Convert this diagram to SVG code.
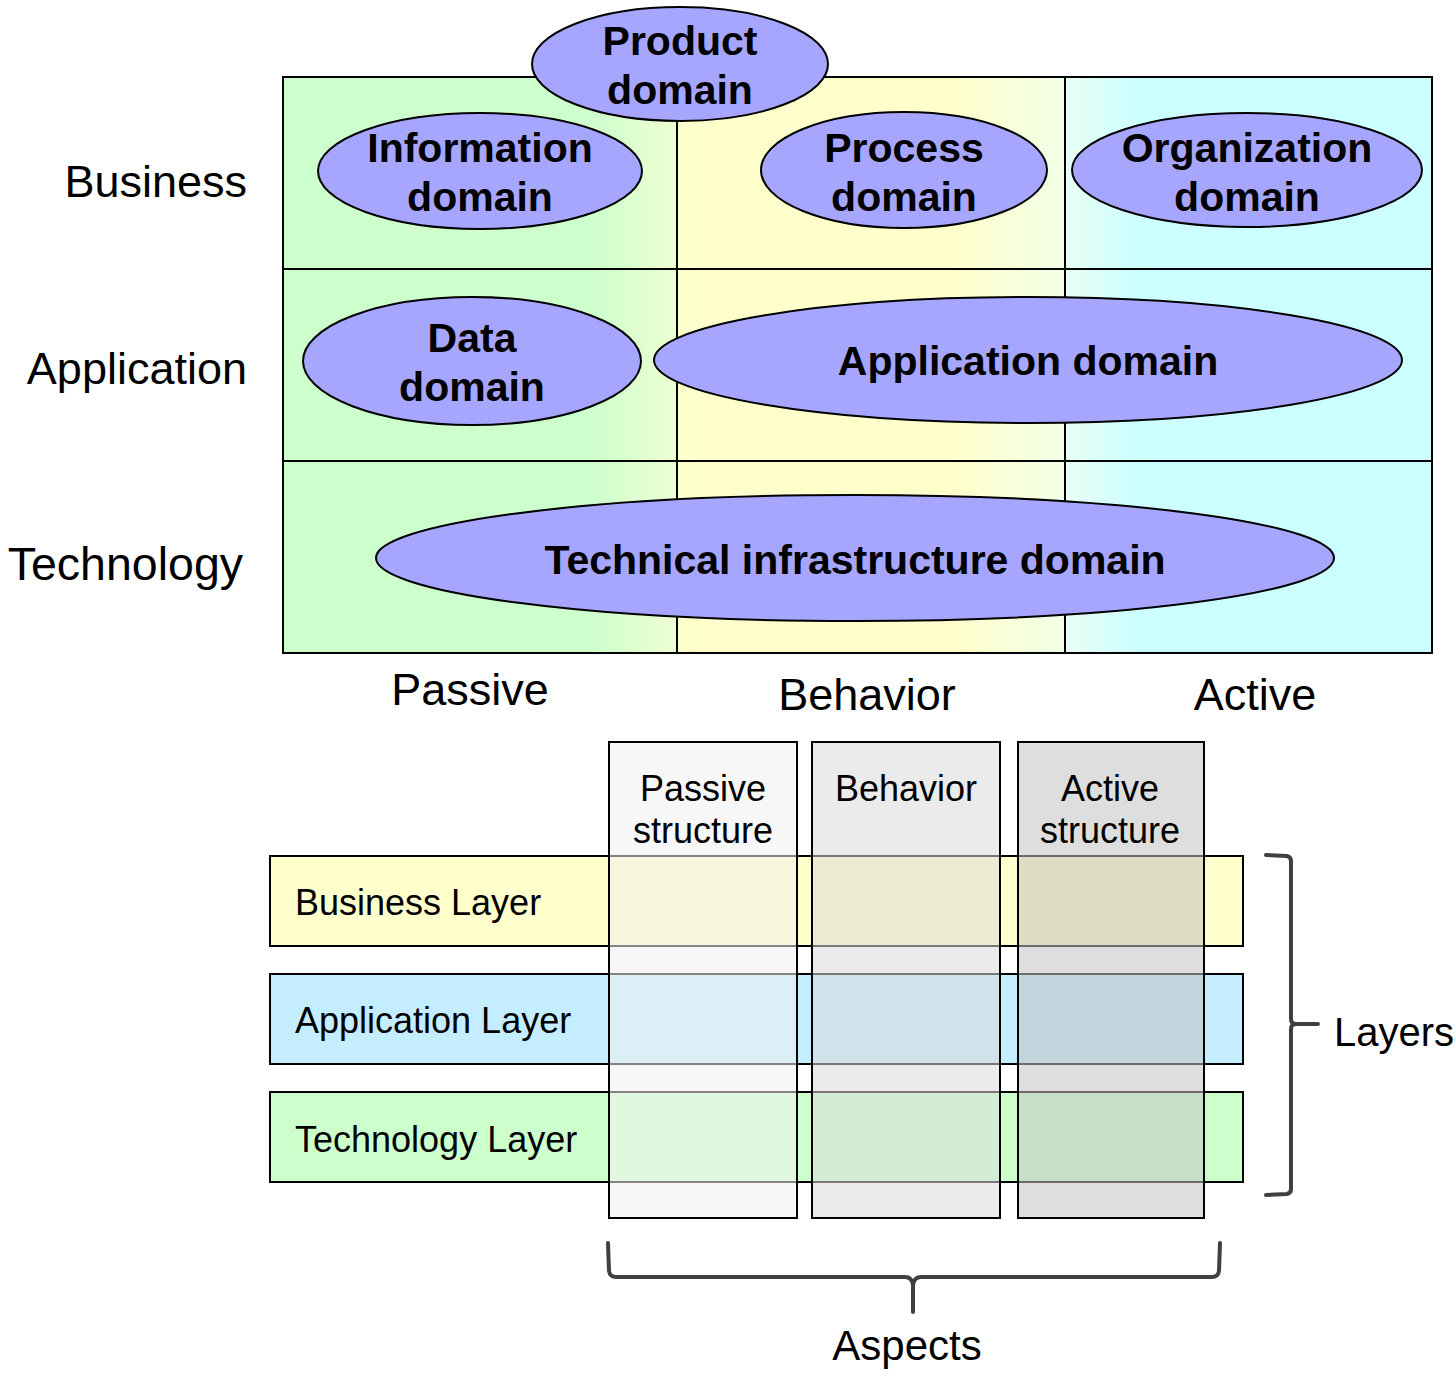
<svg xmlns="http://www.w3.org/2000/svg" width="1456" height="1376" viewBox="0 0 1456 1376">
<style>
.dom{fill:#A6A6FF;stroke:#000;stroke-width:2}
.dt{font-family:"Liberation Sans",Arial,sans-serif;font-weight:bold;font-size:41px;text-anchor:middle;fill:#000}
.lbl{font-family:"Liberation Sans",Arial,sans-serif;font-size:45px;fill:#000}
.grid{fill:none;stroke:#000;stroke-width:2}
.col{stroke:#000;stroke-width:2;fill-opacity:0.55}
.lay{stroke:#000;stroke-width:2}
.t36{font-family:"Liberation Sans",Arial,sans-serif;font-size:36px;fill:#000}
.t42{font-family:"Liberation Sans",Arial,sans-serif;font-size:42px;fill:#000}
.br{fill:none;stroke:#404040;stroke-width:4;stroke-linejoin:round;stroke-linecap:round}
</style>
<defs>
<linearGradient id="g1" gradientUnits="userSpaceOnUse" x1="283" y1="0" x2="677" y2="0">
<stop offset="0" stop-color="#CCFFCC"/><stop offset="0.78" stop-color="#CCFFCC"/><stop offset="1" stop-color="#EEFFD2"/>
</linearGradient>
<linearGradient id="g2" gradientUnits="userSpaceOnUse" x1="677" y1="0" x2="1065" y2="0">
<stop offset="0" stop-color="#FCFFCC"/><stop offset="0.1" stop-color="#FFFFCC"/><stop offset="0.72" stop-color="#FFFFCC"/><stop offset="1" stop-color="#F0FFE6"/>
</linearGradient>
<linearGradient id="g3" gradientUnits="userSpaceOnUse" x1="1065" y1="0" x2="1432" y2="0">
<stop offset="0" stop-color="#E8FFF4"/><stop offset="0.2" stop-color="#CCFFFF"/><stop offset="1" stop-color="#CCFFFF"/>
</linearGradient>
</defs>

<g id="top-grid">
<rect x="283" y="77" width="394" height="576" fill="url(#g1)"/>
<rect x="677" y="77" width="388" height="576" fill="url(#g2)"/>
<rect x="1065" y="77" width="367" height="576" fill="url(#g3)"/>
<rect class="grid" x="283" y="77" width="1149" height="576"/>
<line class="grid" x1="677" y1="77" x2="677" y2="653"/>
<line class="grid" x1="1065" y1="77" x2="1065" y2="653"/>
<line class="grid" x1="283" y1="269" x2="1432" y2="269"/>
<line class="grid" x1="283" y1="461" x2="1432" y2="461"/>
</g>

<g id="row-labels">
<text class="lbl" x="247" y="197" text-anchor="end">Business</text>
<text class="lbl" x="247" y="384" text-anchor="end">Application</text>
<text class="lbl" x="243" y="580" text-anchor="end" style="font-size:46.5px">Technology</text>
</g>
<g id="col-labels">
<text class="lbl" x="470" y="705" text-anchor="middle">Passive</text>
<text class="lbl" x="867" y="710" text-anchor="middle">Behavior</text>
<text class="lbl" x="1255" y="710" text-anchor="middle">Active</text>
</g>

<g id="product-domain">
<ellipse class="dom" cx="680" cy="64" rx="148" ry="57"/>
<text class="dt" x="680" y="55">Product</text>
<text class="dt" x="680" y="104">domain</text>
</g>
<g id="information-domain">
<ellipse class="dom" cx="480" cy="171" rx="162" ry="58"/>
<text class="dt" x="480" y="162">Information</text>
<text class="dt" x="480" y="211">domain</text>
</g>
<g id="process-domain">
<ellipse class="dom" cx="904" cy="170" rx="143" ry="58"/>
<text class="dt" x="904" y="162">Process</text>
<text class="dt" x="904" y="211">domain</text>
</g>
<g id="organization-domain">
<ellipse class="dom" cx="1247" cy="170" rx="175" ry="57"/>
<text class="dt" x="1247" y="162">Organization</text>
<text class="dt" x="1247" y="211">domain</text>
</g>
<g id="data-domain">
<ellipse class="dom" cx="472" cy="361" rx="169" ry="64"/>
<text class="dt" x="472" y="352">Data</text>
<text class="dt" x="472" y="401">domain</text>
</g>
<g id="application-domain">
<ellipse class="dom" cx="1028" cy="360" rx="374" ry="63"/>
<text class="dt" x="1028" y="375">Application domain</text>
</g>
<g id="technical-infrastructure-domain">
<ellipse class="dom" cx="855" cy="558" rx="479" ry="63"/>
<text class="dt" x="855" y="574">Technical infrastructure domain</text>
</g>

<g id="business-layer">
<rect class="lay" x="270" y="856" width="973" height="90" fill="#FFFFCC"/>
<text class="t36" x="295" y="915">Business Layer</text>
</g>
<g id="application-layer">
<rect class="lay" x="270" y="974" width="973" height="90" fill="#C4EEFF"/>
<text class="t36" x="295" y="1033">Application Layer</text>
</g>
<g id="technology-layer">
<rect class="lay" x="270" y="1092" width="973" height="90" fill="#CCFFCC"/>
<text class="t36" x="295" y="1152">Technology Layer</text>
</g>

<g id="passive-structure">
<rect class="col" x="609" y="742" width="188" height="476" fill="#F0F0F0"/>
<text class="t36" x="703" y="801" text-anchor="middle">Passive</text>
<text class="t36" x="703" y="843" text-anchor="middle">structure</text>
</g>
<g id="behavior">
<rect class="col" x="812" y="742" width="188" height="476" fill="#DBDBDB"/>
<text class="t36" x="906" y="801" text-anchor="middle">Behavior</text>
</g>
<g id="active-structure">
<rect class="col" x="1018" y="742" width="186" height="476" fill="#C3C3C3"/>
<text class="t36" x="1110" y="801" text-anchor="middle">Active</text>
<text class="t36" x="1110" y="843" text-anchor="middle">structure</text>
</g>

<g id="connectors">
<path class="br" d="M1266,855 L1287,856 Q1291,857 1291,861 L1291,1019 Q1291,1024 1296,1024 L1318,1024 M1296,1024 Q1291,1024 1291,1029 L1291,1189 Q1291,1193 1287,1194 L1266,1195"/>
<path class="br" d="M608,1243 L609,1271 Q610,1277 616,1277 L905,1277 Q912,1277 913,1285 L913,1312 M913,1285 Q914,1277 921,1277 L1212,1277 Q1218,1277 1219,1271 L1220,1243"/>
</g>
<g id="bracket-labels">
<text class="t42" x="1334" y="1046" style="font-size:40px">Layers</text>
<text class="t42" x="907" y="1360" text-anchor="middle">Aspects</text>
</g>
</svg>
